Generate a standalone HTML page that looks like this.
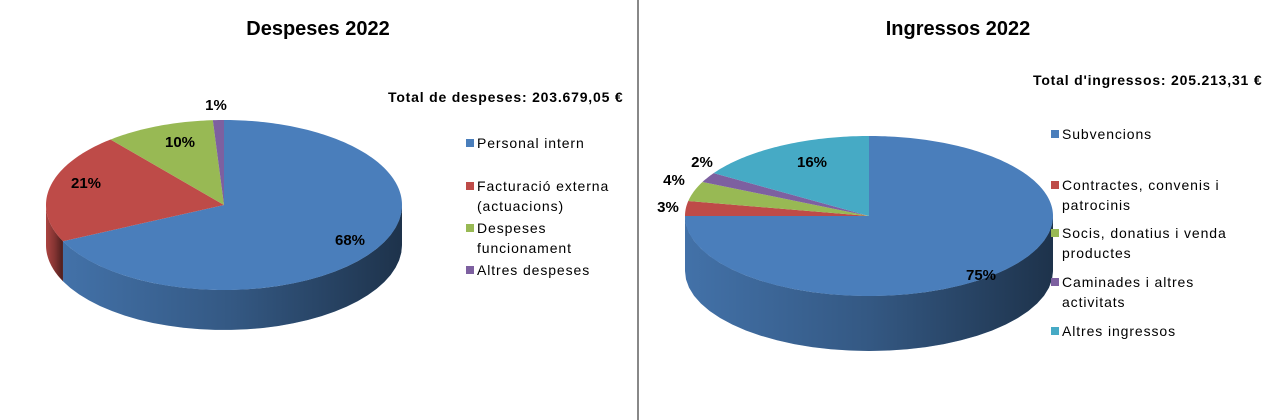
<!DOCTYPE html>
<html><head><meta charset="utf-8"><style>
body{margin:0;background:#fff;}
svg{display:block;font-family:"Liberation Sans",Arial,sans-serif;}
</style></head><body>
<svg id="c" width="1278" height="420" viewBox="0 0 1278 420">
<defs>
<linearGradient id="shade" x1="0" x2="1" y1="0" y2="0">
<stop offset="0" stop-color="#000" stop-opacity="0.1"/>
<stop offset="0.5" stop-color="#000" stop-opacity="0.3"/>
<stop offset="1" stop-color="#000" stop-opacity="0.6"/>
</linearGradient>
</defs>
<line x1="638" y1="0" x2="638" y2="420" stroke="#888" stroke-width="2"/>
<text x="318" y="35" font-size="20" font-weight="bold" text-anchor="middle">Despeses 2022</text>
<text x="958" y="35" font-size="20" font-weight="bold" text-anchor="middle">Ingressos 2022</text>
<text x="388" y="102" font-size="14" font-weight="bold" letter-spacing="0.8">Total de despeses:  203.679,05 €</text>
<text x="1033" y="85" font-size="14" font-weight="bold" letter-spacing="0.8">Total d'ingressos:  205.213,31 €</text>
</svg>
<script>
const leftCats=["Personal intern","Facturació externa (actuacions)","Despeses funcionament","Altres despeses"];
const leftVals=[68,21,10,1];
const rightCats=["Subvencions","Contractes, convenis i patrocinis","Socis, donatius i venda productes","Caminades i altres activitats","Altres ingressos"];
const rightVals=[75,3,4,2,16];
const leftColors=["#4a7ebb","#be4b48","#98b954","#7d60a0"];
const rightColors=["#4a7ebb","#be4b48","#98b954","#7d60a0","#46aac5"];
const svg=document.getElementById('c');
const NS="http://www.w3.org/2000/svg";
function mk(t,a){const e=document.createElementNS(NS,t);for(const k in a)e.setAttribute(k,a[k]);svg.appendChild(e);return e;}
function pie(p,vals,colors,cats,labelPos,legend,side){
  const tot=vals.reduce((a,b)=>a+b,0);
  const pt=(t,dy)=>[p.cx+p.rx*Math.sin(t*Math.PI/180),p.cy-p.ry*Math.cos(t*Math.PI/180)+(dy||0)];
  let a=0;const angs=[];
  vals.forEach(v=>{const b=a+v/tot*360;angs.push([a,b]);a=b;});
  angs.forEach(([s,e],i)=>{
    const s2=Math.max(s,90),e2=Math.min(e,270);
    if(e2<=s2)return;
    let d="",n=30;
    for(let k=0;k<=n;k++){const q=pt(s2+(e2-s2)*k/n);d+=(k?"L":"M")+q[0]+","+q[1];}
    for(let k=n;k>=0;k--){const q=pt(s2+(e2-s2)*k/n,p.depth);d+="L"+q[0]+","+q[1];}
    d+="Z";
    const el=mk('path',{d:d,fill:colors[i]});
    
    
    const sh=mk('path',{d:d,fill:'url(#shade)'});
    
    
  });
  angs.forEach(([s,e],i)=>{
    let d="M"+p.cx+","+p.cy;const n=Math.max(4,Math.ceil(e-s));
    for(let k=0;k<=n;k++){const q=pt(s+(e-s)*k/n);d+="L"+q[0]+","+q[1];}
    d+="Z";
    const el=mk('path',{d:d,fill:colors[i]});
    
    
    const t=mk('text',{x:labelPos[i][0],y:labelPos[i][1],'font-size':15,'font-weight':'bold','text-anchor':'middle'});
    t.textContent=Math.round(vals[i]/tot*100)+"%";
    
    
  });
  cats.forEach((c,i)=>{
    const y=legend.ys[i];
    const r=mk('rect',{x:legend.x-1,y:y-9,width:8,height:8,fill:colors[i]});
    
    
    const lines=legend.lines[i];
    lines.forEach((ln,j)=>{
      const t=mk('text',{x:legend.x+10,y:y+j*20,'font-size':14,'letter-spacing':0.9});
      t.textContent=ln;
      
      
    });
  });
}
pie({cx:224,cy:205,rx:178,ry:85,depth:40},leftVals,leftColors,leftCats,
  [[350,245],[86,188],[180,147],[216,110]],
  {x:467,ys:[148,191,233,275],lines:[["Personal intern"],["Facturació externa","(actuacions)"],["Despeses","funcionament"],["Altres despeses"]]},'left');
pie({cx:869,cy:216,rx:184,ry:80,depth:55},rightVals,rightColors,rightCats,
  [[981,280],[668,212],[674,185],[702,167],[812,167]],
  {x:1052,ys:[139,190,238,287,336],lines:[["Subvencions"],["Contractes, convenis i","patrocinis"],["Socis, donatius i venda","productes"],["Caminades i altres","activitats"],["Altres ingressos"]]},'right');
</script>
</body></html>
